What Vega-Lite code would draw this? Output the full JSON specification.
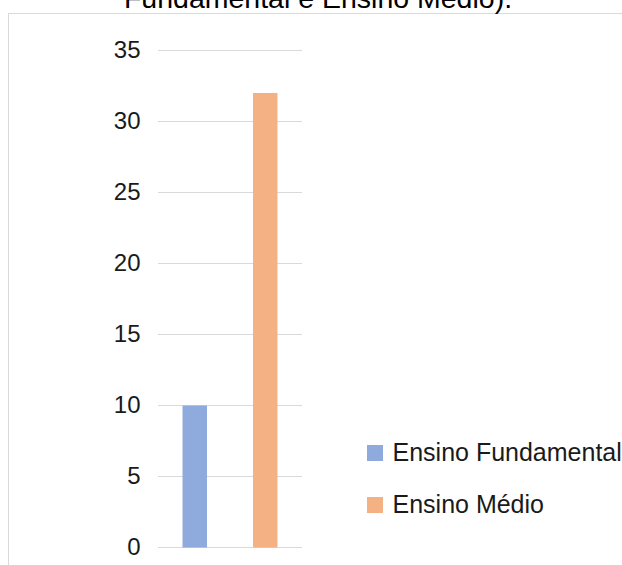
{
  "$schema": "https://vega.github.io/schema/vega-lite/v6.json",
  "width": 614,
  "height": 552,
  "autosize": {"type": "none"},
  "padding": {"left": 8, "top": 13, "right": 0, "bottom": 0},
  "background": "white",
  "datasets": {
    "escolaridade": [
      {"nivel": "Ensino Fundamental", "valor": 10},
      {"nivel": "Ensino Médio", "valor": 32}
    ],
    "grade": [
      {"v": 0}, {"v": 5}, {"v": 10}, {"v": 15},
      {"v": 20}, {"v": 25}, {"v": 30}, {"v": 35}
    ]
  },
  "layer": [
    {
      "data": {"values": [{}]},
      "mark": {"type": "rule", "color": "#d9d9d9", "strokeWidth": 1},
      "encoding": {
        "y": {"datum": 37.6058, "type": "quantitative", "title": null}
      }
    },
    {
      "data": {"name": "grade"},
      "mark": {"type": "rule", "color": "#d9d9d9", "strokeWidth": 1},
      "encoding": {
        "y": {
          "field": "v",
          "type": "quantitative",
          "title": null,
          "scale": {"domain": [-1.2324, 37.641], "nice": false, "zero": false},
          "axis": {
            "orient": "left",
            "values": [0, 5, 10, 15, 20, 25, 30, 35],
            "domain": true,
            "domainColor": "#d9d9d9",
            "domainWidth": 1,
            "ticks": false,
            "tickSize": 0,
            "grid": false,
            "labelPadding": -132,
            "labelFont": "Liberation Sans",
            "labelFontSize": 24,
            "labelColor": "#1a1a1a",
            "labelBaseline": "middle",
            "title": null
          }
        },
        "x": {"datum": "Ensino Fundamental", "type": "nominal", "bandPosition": -1.0, "axis": null, "title": null},
        "x2": {"datum": "Ensino Médio", "bandPosition": 2.0}
      }
    },
    {
      "data": {"name": "escolaridade"},
      "mark": {"type": "bar"},
      "encoding": {
        "x": {
          "field": "nivel",
          "type": "nominal",
          "sort": null,
          "title": null,
          "scale": {
            "type": "band",
            "range": [150, 294],
            "paddingInner": 0.6525,
            "paddingOuter": 0.3476,
            "round": false
          },
          "axis": null
        },
        "y": {"field": "valor", "type": "quantitative", "title": null},
        "y2": {"datum": 0},
        "color": {
          "field": "nivel",
          "type": "nominal",
          "scale": {
            "domain": ["Ensino Fundamental", "Ensino Médio"],
            "range": ["#8faadc", "#f4b183"]
          },
          "legend": {
            "orient": "none",
            "legendX": 354.5,
            "legendY": 427.5,
            "title": null,
            "symbolType": "square",
            "symbolSize": 256,
            "symbolStrokeWidth": 0,
            "labelFont": "Liberation Sans",
            "labelFontSize": 25,
            "labelColor": "#1a1a1a",
            "labelOffset": 5,
            "labelLimit": 400,
            "rowPadding": 26,
            "padding": 0
          }
        }
      }
    },
    {
      "data": {"values": [{"titulo": "Fundamental e Ensino Médio)."}]},
      "mark": {
        "type": "text",
        "font": "Liberation Sans",
        "fontSize": 28.5,
        "color": "#000000",
        "align": "center",
        "baseline": "alphabetic"
      },
      "encoding": {
        "text": {"field": "titulo", "type": "nominal"},
        "x": {"datum": "Ensino Médio", "type": "nominal", "bandPosition": 2.653, "axis": null, "title": null},
        "y": {"datum": 37.993, "type": "quantitative", "title": null}
      }
    }
  ],
  "config": {
    "view": {"stroke": null}
  }
}
